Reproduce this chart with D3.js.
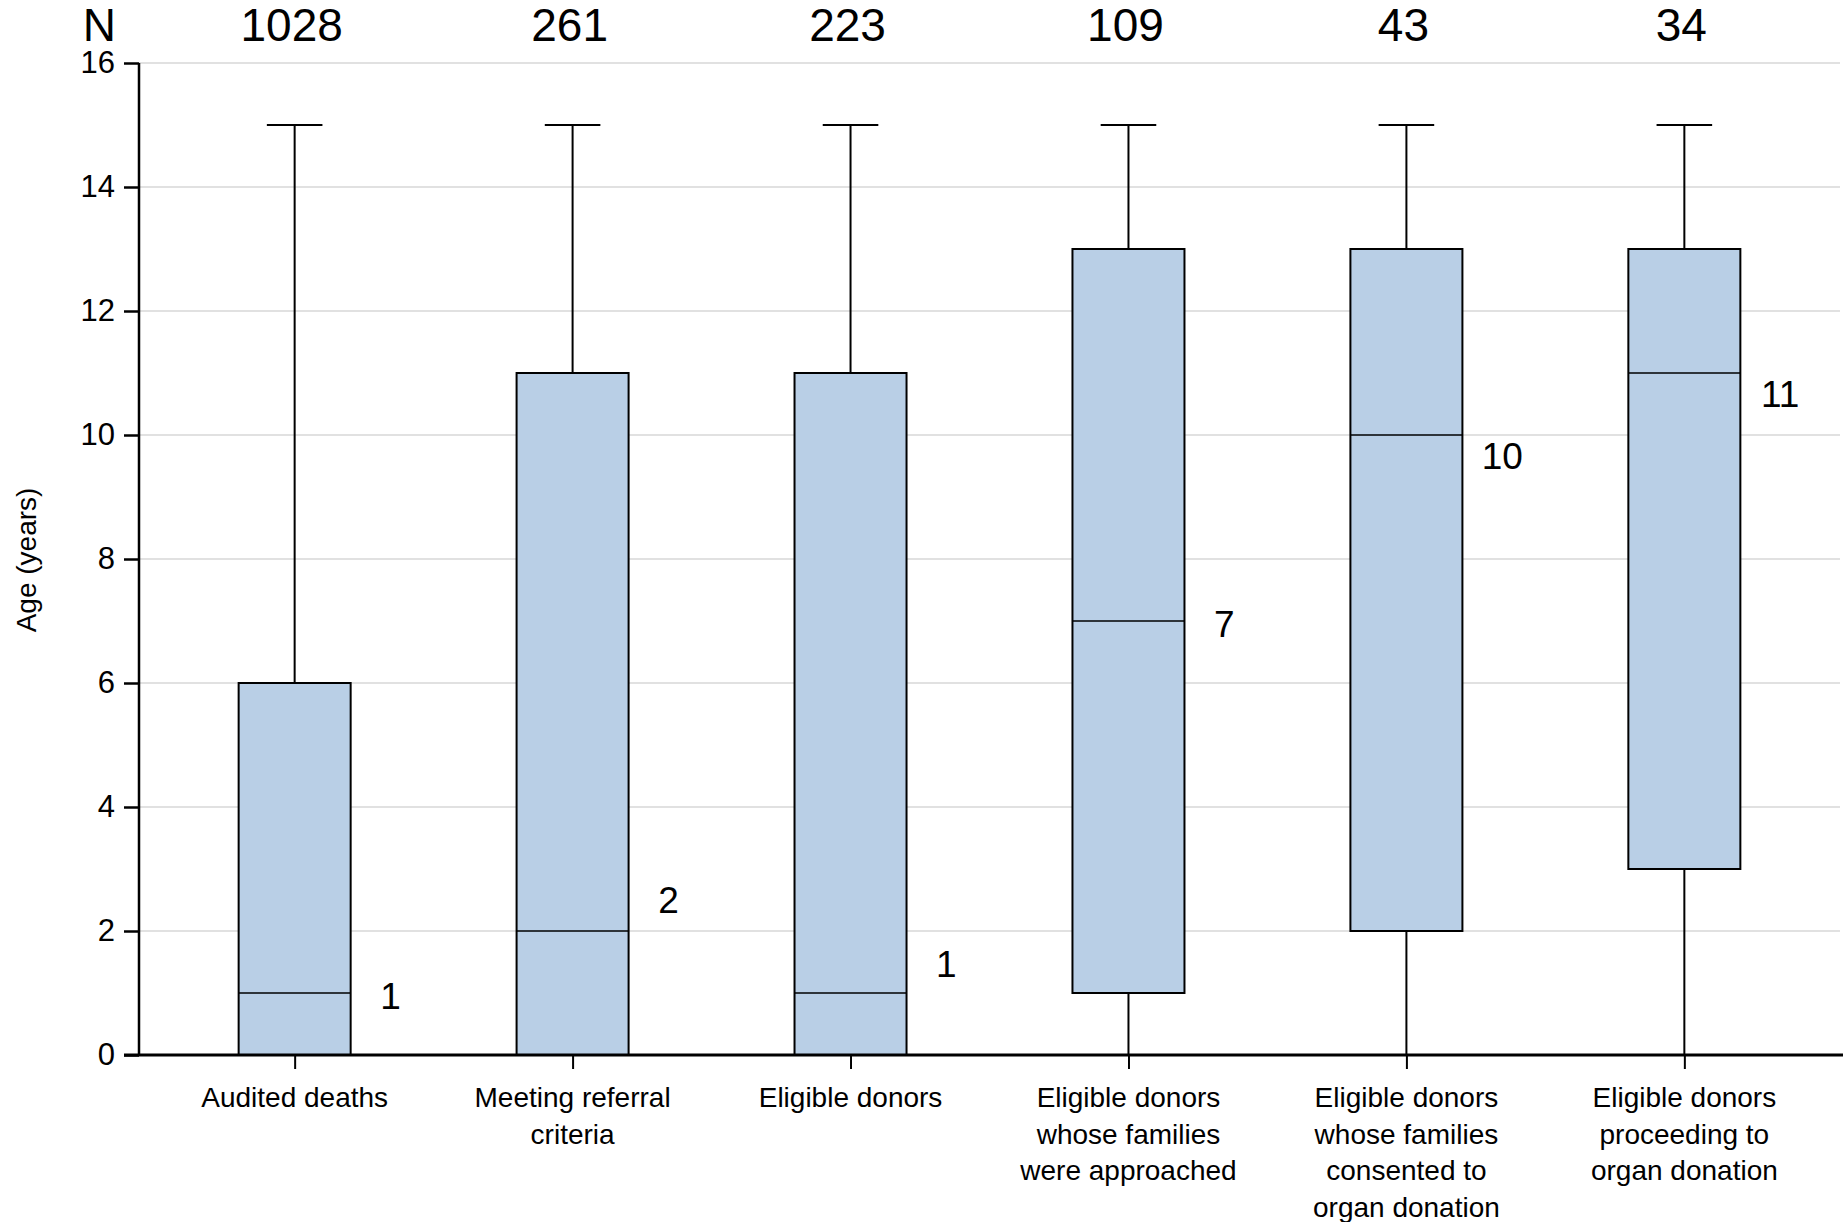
<!DOCTYPE html>
<html>
<head>
<meta charset="utf-8">
<script src="https://cdn.jsdelivr.net/npm/d3@7"></script>
<style>
  html, body { margin: 0; padding: 0; background: #fff; }
  svg { display: block; font-family: "Liberation Sans", Arial, Helvetica, sans-serif; }
</style>
</head>
<body>
<svg id="chart" width="1847" height="1222"></svg>
<script>
// ---- data ----
const categories = [
  "Audited deaths",
  "Meeting referral criteria",
  "Eligible donors",
  "Eligible donors whose families were approached",
  "Eligible donors whose families consented to organ donation",
  "Eligible donors proceeding to organ donation"
];
const categoryLines = [
  ["Audited deaths"],
  ["Meeting referral", "criteria"],
  ["Eligible donors"],
  ["Eligible donors", "whose families", "were approached"],
  ["Eligible donors", "whose families", "consented to", "organ donation"],
  ["Eligible donors", "proceeding to", "organ donation"]
];
const nCounts     = [1028, 261, 223, 109, 43, 34];
const whiskerLow  = [0, 0, 0, 0, 0, 0];
const q1          = [0, 0, 0, 1, 2, 3];
const medians     = [1, 2, 1, 7, 10, 11];
const q3          = [6, 11, 11, 13, 13, 13];
const whiskerHigh = [15, 15, 15, 15, 15, 15];
const yTicks      = [0, 2, 4, 6, 8, 10, 12, 14, 16];

// ---- layout ----
const plotLeft = 139, plotRight = 1840, plotTop = 63, plotBottom = 1055;
const medianLabelNudge = [3, -31, -29, 3, 21, 21]; // px vertical offsets of median labels

const svg = d3.select("#chart");

const x = d3.scalePoint().domain(categories).range([plotLeft, plotRight]).padding(0.56);
const y = d3.scaleLinear().domain([0, 16]).range([plotBottom, plotTop]);
const step = x.step();
const boxW = step * 0.403;
const capW = step * 0.2;

// gridlines
svg.append("g").selectAll("line").data(yTicks.filter(d => d > 0)).join("line")
  .attr("x1", plotLeft).attr("x2", plotRight)
  .attr("y1", d => y(d)).attr("y2", d => y(d))
  .attr("stroke", "#e1e1e1").attr("stroke-width", 2);

const data = categories.map((c, i) => ({
  c, i, lo: whiskerLow[i], q1: q1[i], med: medians[i], q3: q3[i], hi: whiskerHigh[i], n: nCounts[i]
}));

const g = svg.append("g").selectAll("g").data(data).join("g")
  .attr("transform", d => `translate(${x(d.c)},0)`);

// whiskers
g.append("line").attr("x1", 0).attr("x2", 0)
  .attr("y1", d => y(d.hi)).attr("y2", d => y(d.q3))
  .attr("stroke", "#000").attr("stroke-width", 2);
g.append("line").attr("x1", 0).attr("x2", 0)
  .attr("y1", d => y(d.q1)).attr("y2", d => y(d.lo))
  .attr("stroke", "#000").attr("stroke-width", 2);
g.append("line").attr("x1", -capW / 2).attr("x2", capW / 2)
  .attr("y1", d => y(d.hi)).attr("y2", d => y(d.hi))
  .attr("stroke", "#000").attr("stroke-width", 2);

// boxes
g.append("rect")
  .attr("x", -boxW / 2).attr("width", boxW)
  .attr("y", d => y(d.q3)).attr("height", d => y(d.q1) - y(d.q3))
  .attr("fill", "#b9cfe6").attr("stroke", "#000").attr("stroke-width", 2);

// median lines
g.append("line").attr("x1", -boxW / 2).attr("x2", boxW / 2)
  .attr("y1", d => y(d.med)).attr("y2", d => y(d.med))
  .attr("stroke", "#000").attr("stroke-width", 1.3);

// median labels
g.append("text")
  .attr("x", step * 0.345)
  .attr("y", d => y(d.med) + medianLabelNudge[d.i])
  .attr("dy", "0.36em")
  .attr("text-anchor", "middle")
  .attr("font-size", 37)
  .text(d => d.med);

// N labels
g.append("text")
  .attr("x", -3).attr("y", 41)
  .attr("text-anchor", "middle")
  .attr("font-size", 46)
  .text(d => d.n);
svg.append("text").attr("x", 116).attr("y", 41)
  .attr("text-anchor", "end").attr("font-size", 46).text("N");

// y axis
const yAxis = svg.append("g").attr("transform", `translate(${plotLeft},0)`)
  .call(d3.axisLeft(y).tickValues(yTicks).tickSize(15).tickPadding(9).tickFormat(d3.format("d")));
yAxis.select(".domain").attr("stroke", "#000").attr("stroke-width", 2.5)
  .attr("d", `M0,${plotTop}V${plotBottom}`);
yAxis.selectAll(".tick line").attr("stroke", "#000").attr("stroke-width", 2.5);
yAxis.selectAll(".tick text").attr("font-size", 31).attr("fill", "#000")
  .attr("font-family", "'Liberation Sans', Arial, sans-serif");

// x axis
const xAxis = svg.append("g").attr("transform", `translate(0,${plotBottom})`)
  .call(d3.axisBottom(x).tickSize(14).tickFormat(""));
xAxis.select(".domain").attr("stroke", "#000").attr("stroke-width", 3)
  .attr("d", `M${plotLeft - 15},0H${plotRight + 3}`);
xAxis.selectAll(".tick line").attr("stroke", "#000").attr("stroke-width", 2);

// category labels
const catG = svg.append("g").selectAll("text").data(data).join("text")
  .attr("text-anchor", "middle")
  .attr("font-size", 28)
  .attr("transform", d => `translate(${x(d.c)},1107)`);
catG.selectAll("tspan").data(d => categoryLines[d.i]).join("tspan")
  .attr("x", 0).attr("y", (d, j) => j * 36.5)
  .text(d => d);

// y axis title
svg.append("text")
  .attr("transform", "translate(36,560) rotate(-90)")
  .attr("text-anchor", "middle")
  .attr("font-size", 28)
  .text("Age (years)");
</script>
</body>
</html>
